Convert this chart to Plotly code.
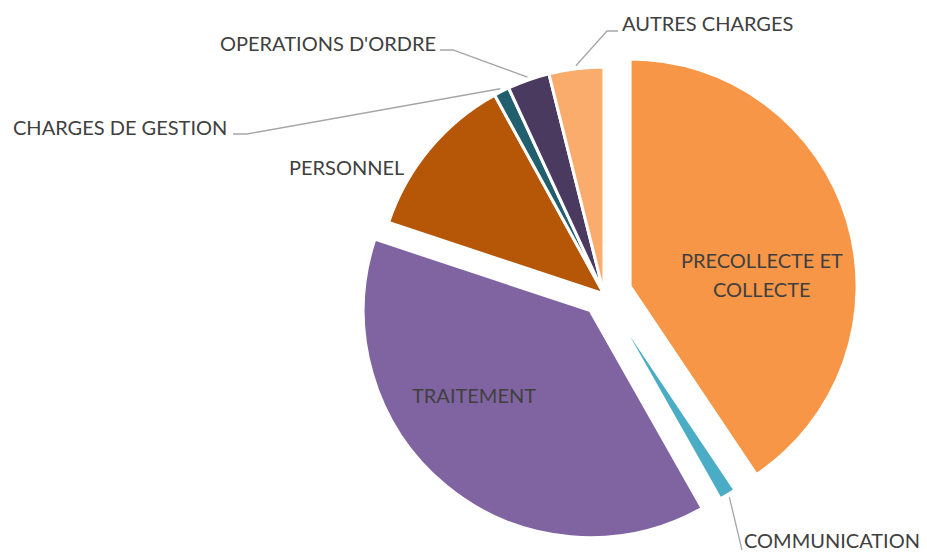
import math
import plotly.graph_objects as go

# ---- data ----
labels = ["PRECOLLECTE ET COLLECTE", "COMMUNICATION", "TRAITEMENT", "PERSONNEL",
          "CHARGES DE GESTION", "OPERATIONS D'ORDRE", "AUTRES CHARGES"]
values = [40.6, 1.2, 38.3, 11.9, 1.1, 3.0, 3.9]

# ---- style ----
colors = ["#F79646", "#4BACC6", "#8064A2", "#B65708", "#215F6E", "#4B3A60", "#F9AC6B"]
pulls = [0.12, 0.038, 0.095, 0, 0, 0, 0]
OX, OY = 8, 8                      # page body margin
W, H = 927 - OX, 552 - OY          # figure size
CX, CY, R = 604, 294, 227          # pie centre / radius in window pixels
FONT = "Lato"
FS = 20
TXT = "#404040"

maxpull = max(pulls)
half = R * (1 + maxpull)
dom_x = [(CX - OX - half) / W, (CX - OX + half) / W]
dom_y = [(H - (CY - OY) - half) / H, (H - (CY - OY) + half) / H]

fig = go.Figure(go.Pie(
    labels=labels, values=values, sort=False, direction="clockwise", rotation=0,
    pull=pulls, textinfo="none", hoverinfo="label+percent",
    marker=dict(colors=colors, line=dict(color="white", width=3)),
    domain=dict(x=dom_x, y=dom_y), showlegend=False,
))

def px2paper(x, y):
    return (x - OX) / W, 1 - (y - OY) / H

# bisector end points computed from the data
total = sum(values)
cum = 0
ends = {}
for lab, v, p in zip(labels, values, pulls):
    a = math.radians((cum + v / 2) / total * 360)
    rr = R * (1 + p) + 3
    ends[lab] = (CX + rr * math.sin(a), CY - rr * math.cos(a))
    cum += v

# label placement: (text, x, y, xanchor)
label_pos = [
    ("PRECOLLECTE ET", 762, 260, "center"),
    ("COLLECTE", 762, 289, "center"),
    ("TRAITEMENT", 474, 395, "center"),
    ("PERSONNEL", 406, 167, "right"),
    ("CHARGES DE GESTION", 229, 127, "right"),
    ("OPERATIONS D'ORDRE", 438, 43, "right"),
    ("AUTRES CHARGES", 620, 23, "left"),
    ("COMMUNICATION", 742, 540, "left"),
]
elbows = {
    "CHARGES DE GESTION": [(247, 134), (233, 134)],
    "OPERATIONS D'ORDRE": [(453, 50), (440, 50)],
    "AUTRES CHARGES": [(607, 31), (618, 31)],
    "COMMUNICATION": [(742, 550)],
}

annotations = []
for t, x, y, xa in label_pos:
    xp, yp = px2paper(x, y)
    annotations.append(dict(text=t, x=xp, y=yp, xref="paper", yref="paper",
                            xanchor=xa, yanchor="middle", showarrow=False,
                            font=dict(family=FONT, size=FS, color=TXT)))

shapes = []
for lab, pts in elbows.items():
    seq = [ends[lab]] + pts
    path = ""
    for i, (x, y) in enumerate(seq):
        xp, yp = px2paper(x, y)
        path += ("M" if i == 0 else " L") + f" {xp:.5f} {yp:.5f}"
    shapes.append(dict(type="path", path=path, xref="paper", yref="paper",
                       line=dict(color="#A6A6A6", width=1.3)))

fig.update_layout(width=W, height=H, margin=dict(l=0, r=0, t=0, b=0),
                  paper_bgcolor="white", plot_bgcolor="white",
                  annotations=annotations, shapes=shapes,
                  font=dict(family=FONT, size=FS, color=TXT))

fig.write_html("out.html")
